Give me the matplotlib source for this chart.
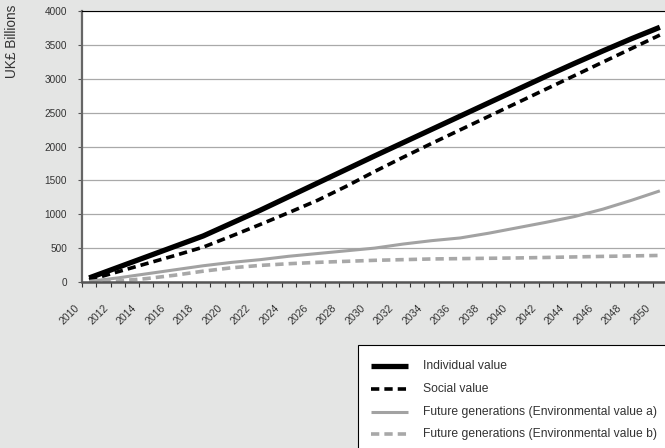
"""Cumulative value of the programme, UK£ billions, 2010-2050."""

import numpy as np
import matplotlib

matplotlib.use("Agg")
import matplotlib.pyplot as plt
from matplotlib.patches import Rectangle
from matplotlib.transforms import ScaledTranslation

years = [2010, 2012, 2014, 2016, 2018, 2020, 2022, 2024, 2026, 2028, 2030,
         2032, 2034, 2036, 2038, 2040, 2042, 2044, 2046, 2048, 2050]
individual = [60, 215, 370, 525, 680, 870, 1060, 1260, 1460, 1660, 1860,
              2056, 2252, 2448, 2644, 2840, 3035, 3225, 3410, 3590, 3760]
social = [30, 150, 270, 390, 515, 680, 850, 1025, 1205, 1410, 1630,
          1840, 2045, 2245, 2445, 2645, 2845, 3045, 3245, 3445, 3645]
env_a = [10, 60, 120, 180, 240, 290, 330, 380, 420, 460, 500,
         560, 610, 650, 720, 800, 880, 965, 1075, 1205, 1345]
env_b = [0, 15, 50, 100, 160, 210, 245, 270, 290, 305, 320,
         330, 340, 345, 350, 355, 362, 370, 378, 385, 392]
series_labels = [
    "Individual value",
    "Social value",
    "Future generations (Environmental value a)",
    "Future generations (Environmental value b)",
]

BG = "#e4e5e4"
TXT = "#333333"
W, H = 665, 448

plt.rcParams["font.family"] = ["Liberation Sans", "DejaVu Sans"]

styles = [
    dict(color="black", lw=3.8, ls="-"),
    dict(color="black", lw=2.6, dashes=(2.3, 1.4)),
    dict(color="#a2a2a2", lw=2.2, ls="-"),
    dict(color="#a8a8a8", lw=2.6, dashes=(2.3, 1.4)),
]

fig = plt.figure(figsize=(W / 100, H / 100), dpi=100)
fig.patch.set_facecolor(BG)

ax = fig.add_axes([82 / W, 166 / H, 585 / W, 271 / H])
ax.set_facecolor("white")

for values, st in zip([individual, social, env_a, env_b], styles):
    ax.plot(years, values, solid_capstyle="butt", dash_capstyle="butt", **st)

ax.set_xlim(2009.5, 2050.5)
ax.set_ylim(0, 4000)
ax.set_yticks(range(0, 4001, 500))
ax.yaxis.grid(True, color="#a9a9a9", lw=0.9)
ax.set_axisbelow(True)

ax.set_xticks(years)
ax.set_xticklabels(years, rotation=45, ha="right", va="center",
                   rotation_mode="anchor", fontsize=7.6, color=TXT)
ax.set_xticks(np.arange(2009.5, 2051), minor=True)
ax.tick_params(axis="x", which="major", length=0, pad=17.5)
ax.tick_params(axis="x", which="minor", length=3.5, width=0.8, color="#333333")
ax.tick_params(axis="y", length=3, width=0.8, color="#555555", pad=7.8,
               labelsize=7.2, labelcolor=TXT)
shift = ScaledTranslation(-11 / 100, 0, fig.dpi_scale_trans)
for lab in ax.get_xticklabels():
    lab.set_transform(lab.get_transform() + shift)

ax.spines["left"].set_color("#666666")
ax.spines["left"].set_linewidth(1.6)
ax.spines["bottom"].set_color("#555555")
ax.spines["bottom"].set_linewidth(1.8)
ax.spines["top"].set_color("black")
ax.spines["top"].set_linewidth(0.8)
ax.spines["right"].set_visible(False)

fig.text(12 / W, 1 - 5 / H, "UK£ Billions", rotation=90, ha="center", va="top",
         fontsize=9.8, color=TXT)

# legend drawn by hand so the box can run off the bottom-right edge
lg = fig.add_axes([0, 0, 1, 1], facecolor="none")
lg.set_xlim(0, W)
lg.set_ylim(H, 0)
lg.axis("off")
lg.add_patch(Rectangle((358, 345), 400, 200, facecolor="white",
                       edgecolor="black", lw=0.8))
for i, (label, st) in enumerate(zip(series_labels, styles)):
    y = 366 + i * 22.8
    lg.plot([371, 408], [y, y], solid_capstyle="butt", dash_capstyle="butt", **st)
    lg.text(423, y, label, va="center", ha="left", fontsize=8.7, color=TXT)

fig.savefig("out.png", dpi=100, facecolor=fig.get_facecolor())
